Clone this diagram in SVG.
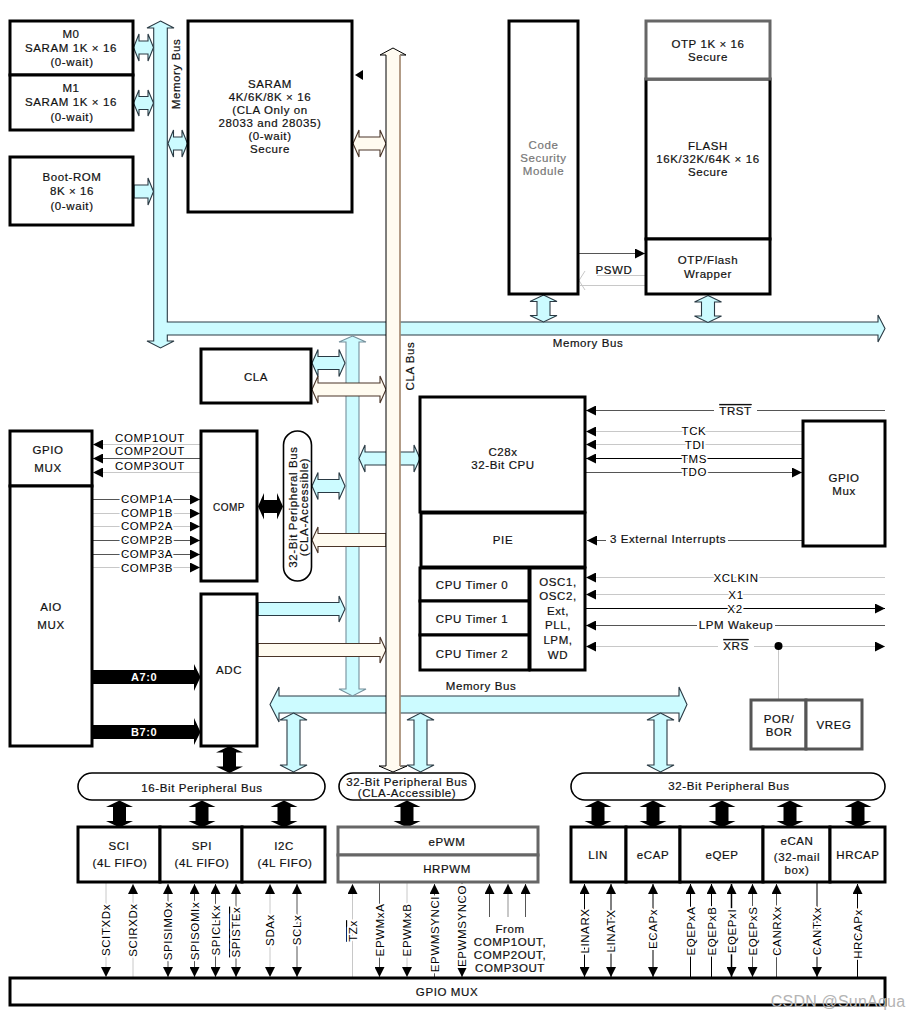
<svg xmlns="http://www.w3.org/2000/svg" width="909" height="1016" viewBox="0 0 909 1016">
<style>
text{font-family:"Liberation Sans",Arial,sans-serif;font-size:11.5px;letter-spacing:.6px;text-anchor:middle;dominant-baseline:central;fill:#111;stroke:#111;stroke-width:.2px}
.box{fill:#fff;stroke:#000;stroke-width:3}
.gbox{fill:#fff;stroke:#666;stroke-width:3}
.pill{fill:#fff;stroke:#000;stroke-width:1.6}
.blue{fill:#ccfbff;stroke:#2a3a44;stroke-width:1.1}
.cream{fill:#fffbf0;stroke:#4a3528;stroke-width:1.1}
.blk{fill:#000;stroke:none}
.l{fill:none;stroke-width:1}
.k{stroke:#000}.d{stroke:#555}.g{stroke:#c8c8c8}
.e{marker-end:url(#ah)}.s{marker-start:url(#ah)}
.lb{fill:#000;paint-order:stroke;stroke:#fff;stroke-width:4px;stroke-linejoin:round}
.ov{text-decoration:overline}
.gt{fill:#777;stroke:#777}
.wm{fill:#b4b4b4;stroke:none;font-size:16px;letter-spacing:.2px}
.w{fill:#fff;stroke:none;font-size:11px;font-weight:bold;letter-spacing:.6px}
</style>
<defs>
<marker id="ah" viewBox="0 0 10 10" refX="10" refY="5" markerUnits="userSpaceOnUse" markerWidth="10" markerHeight="10" orient="auto-start-reverse"><path d="M0 0L10 5L0 10Z" fill="#000"/></marker>
<path id="vd" d="M0 -13.5L13.5 -7H6.5V7H13.5L0 13.5L-13.5 7H-6.5V-7H-13.5Z"/>
</defs>

<g id="connectors">
<path id="memory-bus-top" class="blue" d="M160.5 21L174 28H167.300V322H878V315L885 328.500L878 342V335H167.300V341H174L160.500 348L147 341H153.700V28H147Z"/>
<path id="memory-bus-low" class="blue" d="M270 704.500L279 687V696H679V687L687 704.500L679 722V713H279V722Z"/>
<path id="memory-bus-mid" class="blue" style="stroke:#75909c" d="M352.500 336L366 342H359V689H366L352.500 696L339 689H346V342H339Z"/>
<path class="blue" d="M133.500 47.500L139 34V41H148V34L153.500 47.500L148 61V54H139V61Z"/>
<path class="blue" d="M133.500 103L139 90V96.500H148V90L153.500 103L148 116V109.500H139V116Z"/>
<path class="blue" d="M168 143.500L173.500 130V137H182V130L187.500 143.500L182 157V150H173.500V157Z"/>
<path class="blue" d="M134 198V185H148V178L153.500 191.500L148 205V198Z"/>
<use href="#vd" class="blue" x="543.500" y="308.500"/>
<use href="#vd" class="blue" x="708" y="309"/>
<path class="blue" d="M312 363L318 349.500V356.500H339V349.500L345 363L339 376.500V369.500H318V376.500Z"/>
<path class="blue" d="M312 486L318 472.500V479.500H339V472.500L345 486L339 499.500V492.500H318V499.500Z"/>
<path class="blue" d="M359 458.500L365 445V452H414V445L420 458.500L414 472V465H365V472Z"/>
<path class="blue" d="M258 615.500V602.500H339V596L345 609L339 622V615.500Z"/>
<path class="blue" d="M293.500 713L307 720H300V765H307L293.500 772L280 765H287V720H280Z"/>
<path class="blue" d="M420.500 713L434 720H427V765H434L420.500 772L407 765H414V720H407Z"/>
<path class="blue" d="M660.500 713L674 720H667V765H674L660.500 772L647 765H654V720H647Z"/>
<path class="cream" d="M353 143.500L359 130V137H380V130L386 143.500L380 157V150H359V157Z"/>
<path class="cream" d="M312 389.500L318 376V383H380V376L386 389.500L380 403V396H318V403Z"/>
<path class="cream" d="M312 540L318 527V533.500H386V546.500H318V553Z"/>
<path class="cream" d="M258 656.500V643.500H380V637L386 650L380 663V656.500Z"/>
<path id="cla-bus" d="M393 48L406 55H400V766H407L393 772L379 766H386V55H380Z" fill="#fffbf0" stroke="#000" stroke-width="1"/>
<path d="M400 55V766" fill="none" stroke="#c9a98c" stroke-width="1.400"/>
<path class="blk" d="M355 75L363 70V80Z"/>
<path class="blk" d="M258 506.500L264 493V500H277V493L283 506.500L277 519.500V513H264V519.500Z"/>
<path class="blk" d="M92 670H194V664L200.500 677L194 691V684H92Z"/>
<path class="blk" d="M92 725H194V718L200.500 732L194 745V739H92Z"/>
<use href="#vd" class="blk" x="229.500" y="759.500"/>
<use href="#vd" class="blk" x="119.500" y="814"/>
<use href="#vd" class="blk" x="202" y="814"/>
<use href="#vd" class="blk" x="284" y="814"/>
<use href="#vd" class="blk" x="407" y="814"/>
<use href="#vd" class="blk" x="598" y="814"/>
<use href="#vd" class="blk" x="653" y="814"/>
<use href="#vd" class="blk" x="722" y="814"/>
<use href="#vd" class="blk" x="790" y="814"/>
<use href="#vd" class="blk" x="858" y="814"/>

<path class="l d e" d="M578 253.500H645"/>
<path class="l g" d="M597 275.500H645M580 285.500H645M585 271L579 280.500L585 290"/>
<path class="l g s" d="M93 444.500H201"/>
<path class="l d s" d="M93 458.500H201"/>
<path class="l g s" d="M93 472.500H201"/>
<path class="l d e" d="M92 499.500H200"/>
<path class="l g e" d="M92 513.500H200"/>
<path class="l g e" d="M92 526.500H200"/>
<path class="l d e" d="M92 540.500H200"/>
<path class="l d e" d="M92 554.500H200"/>
<path class="l g e" d="M92 567.500H200"/>
<path class="l d s" d="M586 410.500H714M757 410.500H885"/>
<path class="l g s" d="M586 431.500H802"/>
<path class="l g s" d="M586 444.500H802"/>
<path class="l k s" d="M586 458.500H802"/>
<path class="l d e" d="M586 472.500H802"/>
<path class="l d s" d="M587 540.500H606M728 540.500H803"/>
<path class="l g s" d="M586 577.500H885"/>
<path class="l g s" d="M586 594.500H885"/>
<path class="l k e" d="M586 608.500H885"/>
<path class="l d s" d="M586 625.500H697M775 625.500H885"/>
<path class="l g s" d="M586 646.500H718"/>
<path class="l g e" d="M754 646.500H885"/>
<path class="l g" d="M778.500 646V700"/>
<circle cx="778.500" cy="646" r="4" fill="#000"/>

<path class="l g e" d="M106 883V977"/>
<path class="l g s" d="M133 884V978"/>
<path class="l d e s" d="M168 884V977"/>
<path class="l d e s" d="M194.500 884V977"/>
<path class="l d e s" d="M215.500 884V977"/>
<path class="l d e s" d="M236 884V977"/>
<path class="l g e s" d="M270 884V977"/>
<path class="l d e s" d="M297 884V977"/>
<path class="l g s" d="M352.500 884V978"/>
<path class="l d e" d="M379.500 883V977"/>
<path class="l g e" d="M407 883V977"/>
<path class="l d s" d="M434.500 884V978"/>
<path class="l d e" d="M462 883V977"/>
<path class="l d s" d="M489.500 884V917"/>
<path class="l g s" style="stroke-width:2" d="M508 884V917"/>
<path class="l d s" d="M525.500 884V917"/>
<path class="l k e s" d="M584.500 884V977"/>
<path class="l k e s" d="M611 884V977"/>
<path class="l k e s" d="M653 884V977"/>
<path class="l k s" d="M690.500 884V978"/>
<path class="l k s" d="M711.500 884V978"/>
<path class="l k e s" style="stroke-width:1.500" d="M731.500 884V977"/>
<path class="l d e s" d="M752.500 884V977"/>
<path class="l d s" d="M776.500 884V978"/>
<path class="l k e" d="M817 883V977"/>
<path class="l k s" d="M857.500 884V978"/>

<text x="176" y="74" transform="rotate(-90 176 74)">Memory Bus</text>
<text x="588" y="343">Memory Bus</text>
<text x="481" y="686">Memory Bus</text>
<text x="410" y="366" transform="rotate(-90 410 366)">CLA Bus</text>
<text x="614" y="270">PSWD</text>
<text class="lb" x="150" y="438">COMP1OUT</text>
<text class="lb" x="150" y="451">COMP2OUT</text>
<text class="lb" x="150" y="466">COMP3OUT</text>
<text class="lb" x="147" y="499">COMP1A</text>
<text class="lb" x="147" y="513">COMP1B</text>
<text class="lb" x="147" y="526">COMP2A</text>
<text class="lb" x="147" y="540">COMP2B</text>
<text class="lb" x="147" y="554">COMP3A</text>
<text class="lb" x="147" y="568">COMP3B</text>
<text class="w" x="144" y="677">A7:0</text>
<text class="w" x="144" y="732">B7:0</text>
<text class="ov" x="735.500" y="411">TRST</text>
<text class="lb" x="694" y="431">TCK</text>
<text class="lb" x="695" y="445">TDI</text>
<text class="lb" x="694" y="459">TMS</text>
<text class="lb" x="694" y="472">TDO</text>
<text x="668" y="539">3 External Interrupts</text>
<text class="lb" x="736" y="578">XCLKIN</text>
<text class="lb" x="736" y="595">X1</text>
<text class="lb" x="735" y="609">X2</text>
<text x="736" y="625">LPM Wakeup</text>
<text class="ov" x="736" y="646">XRS</text>

<text class="lb" transform="translate(105.500 930) rotate(-90)">SCITXDx</text>
<text class="lb" transform="translate(133 930) rotate(-90)">SCIRXDx</text>
<text class="lb" transform="translate(167.500 931) rotate(-90)">SPISIMOx</text>
<text class="lb" transform="translate(194.500 931) rotate(-90)">SPISOMIx</text>
<text class="lb" transform="translate(215.500 930) rotate(-90)">SPICLKx</text>
<text class="lb ov" transform="translate(236 932) rotate(-90)">SPISTEx</text>
<text class="lb" transform="translate(270 930) rotate(-90)">SDAx</text>
<text class="lb" transform="translate(297 930) rotate(-90)">SCLx</text>
<text class="lb ov" transform="translate(353 931) rotate(-90)">TZx</text>
<text class="lb" transform="translate(379.500 930) rotate(-90)">EPWMxA</text>
<text class="lb" transform="translate(407 930) rotate(-90)">EPWMxB</text>
<text class="lb" transform="translate(434.500 934) rotate(-90)">EPWMSYNCI</text>
<text class="lb" transform="translate(462 926) rotate(-90)">EPWMSYNCO</text>
<text x="510" y="929">From</text>
<text x="510" y="942">COMP1OUT,</text>
<text x="510" y="955">COMP2OUT,</text>
<text x="510" y="968">COMP3OUT</text>
<text class="lb" transform="translate(584.500 931) rotate(-90)">LINARX</text>
<text class="lb" transform="translate(611 931) rotate(-90)">LINATX</text>
<text class="lb" transform="translate(653 929) rotate(-90)">ECAPx</text>
<text class="lb" transform="translate(690.500 931) rotate(-90)">EQEPxA</text>
<text class="lb" transform="translate(711.500 931) rotate(-90)">EQEPxB</text>
<text class="lb" transform="translate(731.500 931) rotate(-90)">EQEPxI</text>
<text class="lb" transform="translate(752.500 931) rotate(-90)">EQEPxS</text>
<text class="lb" transform="translate(776.500 931) rotate(-90)">CANRXx</text>
<text class="lb" transform="translate(817 931) rotate(-90)">CANTXx</text>
<text class="lb" transform="translate(857.500 934) rotate(-90)">HRCAPx</text>
</g>

<g id="m0"><rect class="box" x="10" y="21" width="123" height="54"/><text x="71" y="34">M0</text><text x="71" y="48">SARAM 1K × 16</text><text x="72" y="62">(0-wait)</text></g>
<g id="m1"><rect class="box" x="10" y="75" width="123" height="55"/><text x="71" y="88">M1</text><text x="71" y="102">SARAM 1K × 16</text><text x="72" y="117">(0-wait)</text></g>
<g id="boot-rom"><rect class="box" x="10" y="157" width="123" height="68"/><text x="72" y="177">Boot-ROM</text><text x="72" y="191">8K × 16</text><text x="72" y="206">(0-wait)</text></g>
<g id="saram"><rect class="box" x="188" y="21" width="164" height="191"/><text x="270" y="84">SARAM</text><text x="270" y="97">4K/6K/8K × 16</text><text x="270" y="110">(CLA Only on</text><text x="270" y="123">28033 and 28035)</text><text x="270" y="136">(0-wait)</text><text x="270" y="149">Secure</text></g>
<g id="csm"><rect class="box" x="509" y="21" width="69" height="273"/><text class="gt" x="543.500" y="145">Code</text><text class="gt" x="543.500" y="158">Security</text><text class="gt" x="543.500" y="171">Module</text></g>
<g id="flash"><rect class="box" x="646" y="79" width="124" height="160"/><text x="708" y="146">FLASH</text><text x="708" y="159">16K/32K/64K × 16</text><text x="708" y="172">Secure</text></g>
<g id="otp"><rect class="gbox" x="646" y="21" width="124" height="58"/><text x="708" y="44">OTP 1K × 16</text><text x="708" y="57">Secure</text></g>
<g id="wrapper"><rect class="box" x="646" y="239" width="124" height="55"/><text x="708" y="260">OTP/Flash</text><text x="708" y="274">Wrapper</text></g>
<g id="cla"><rect class="box" x="201" y="349" width="110" height="54"/><text x="256" y="377">CLA</text></g>
<g id="gpio-mux-left"><rect class="box" x="10" y="431" width="82" height="55"/><text x="48" y="450">GPIO</text><text x="48" y="468">MUX</text></g>
<g id="aio-mux"><rect class="box" x="10" y="486" width="82" height="260"/><text x="51" y="607">AIO</text><text x="51" y="625">MUX</text></g>
<g id="comp"><rect class="box" x="201" y="431" width="56" height="150"/><text style="font-size:10px;letter-spacing:.45px" x="229" y="507">COMP</text></g>
<g id="adc"><rect class="box" x="201" y="594" width="56" height="152"/><text x="229" y="670">ADC</text></g>
<g id="pbus-side"><rect class="pill" x="283.500" y="431" width="28" height="150" rx="14"/><text transform="translate(293 507) rotate(-90)">32-Bit Peripheral Bus</text><text transform="translate(304 507) rotate(-90)">(CLA-Accessible)</text></g>
<g id="cpu"><rect class="box" x="420" y="397" width="165" height="115"/><text x="503" y="452">C28x</text><text x="503" y="465">32-Bit CPU</text></g>
<g id="pie"><rect class="box" x="421" y="513" width="164" height="54"/><text x="503" y="540">PIE</text></g>
<g id="timer0"><rect class="box" x="420" y="568" width="109" height="33"/><text x="472" y="585">CPU Timer 0</text></g>
<g id="timer1"><rect class="box" x="420" y="601" width="109" height="34"/><text x="472" y="619">CPU Timer 1</text></g>
<g id="timer2"><rect class="box" x="420" y="635" width="109" height="35"/><text x="472" y="654">CPU Timer 2</text></g>
<g id="osc"><rect class="box" x="530" y="568" width="55" height="102"/><text x="558" y="582">OSC1,</text><text x="558" y="596">OSC2,</text><text x="558" y="611">Ext,</text><text x="558" y="625">PLL,</text><text x="558" y="640">LPM,</text><text x="558" y="655">WD</text></g>
<g id="gpio-mux-right"><rect class="box" x="803" y="421" width="82" height="125"/><text x="844" y="478">GPIO</text><text x="844" y="491">Mux</text></g>
<g id="por"><rect class="gbox" style="stroke:#555" x="751" y="700" width="55" height="49"/><text x="779" y="719">POR/</text><text x="779" y="732">BOR</text></g>
<g id="vreg"><rect class="gbox" style="stroke:#555" x="806" y="700" width="56" height="49"/><text x="834" y="725">VREG</text></g>
<g id="bus16"><rect class="pill" x="78" y="773" width="247" height="27" rx="14"/><text x="202" y="788">16-Bit Peripheral Bus</text></g>
<g id="bus32cla"><rect class="pill" x="339" y="773" width="136" height="27" rx="14"/><text x="407" y="782">32-Bit Peripheral Bus</text><text x="407" y="793">(CLA-Accessible)</text></g>
<g id="bus32"><rect class="pill" x="571" y="773" width="314" height="27" rx="14"/><text x="729" y="786">32-Bit Peripheral Bus</text></g>
<g id="sci"><rect class="box" x="78" y="827" width="82" height="55"/><text x="119" y="846">SCI</text><text x="120" y="863">(4L FIFO)</text></g>
<g id="spi"><rect class="box" x="160" y="827" width="82" height="55"/><text x="202" y="846">SPI</text><text x="202" y="863">(4L FIFO)</text></g>
<g id="i2c"><rect class="box" x="242" y="827" width="83" height="55"/><text x="284" y="846">I2C</text><text x="285" y="863">(4L FIFO)</text></g>
<g id="epwm"><rect class="gbox" x="338" y="827" width="200" height="28"/><text x="447" y="842">ePWM</text></g>
<g id="hrpwm"><rect class="gbox" x="338" y="855" width="200" height="27"/><text x="447" y="869">HRPWM</text></g>
<g id="lin"><rect class="box" x="571" y="827" width="55" height="55"/><text x="598" y="855">LIN</text></g>
<g id="ecap"><rect class="box" x="626" y="827" width="54" height="55"/><text x="653" y="855">eCAP</text></g>
<g id="eqep"><rect class="box" x="680" y="827" width="83" height="55"/><text x="722" y="855">eQEP</text></g>
<g id="ecan"><rect class="box" x="763" y="827" width="67" height="55"/><text x="797" y="841">eCAN</text><text x="797" y="857">(32-mail</text><text x="797" y="870">box)</text></g>
<g id="hrcap"><rect class="box" x="830" y="827" width="55" height="55"/><text x="858" y="855">HRCAP</text></g>
<g id="gpio-mux-bottom"><rect class="box" x="10" y="978" width="875" height="27"/><text x="447" y="992">GPIO MUX</text></g>
<text class="wm" x="838" y="1001">CSDN @SunAqua</text>
</svg>
